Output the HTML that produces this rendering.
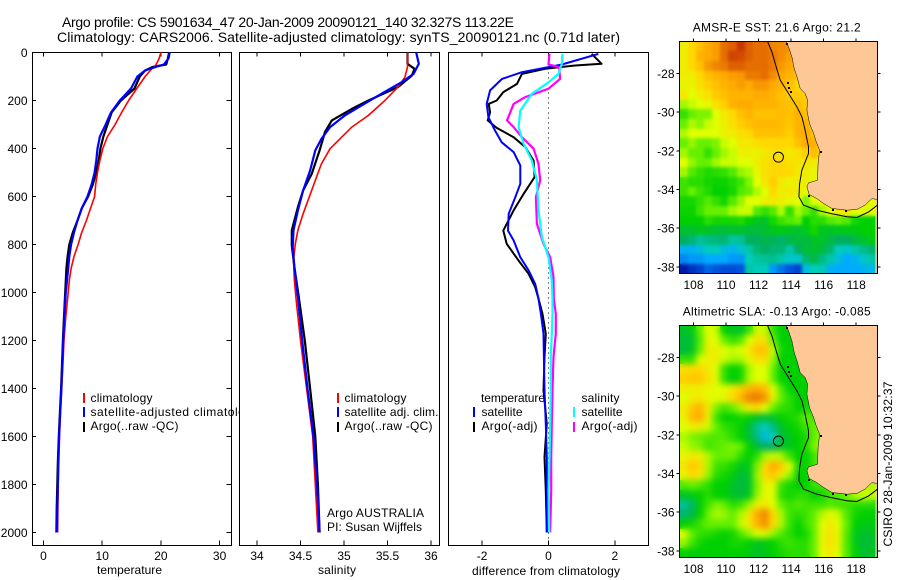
<!DOCTYPE html>
<html>
<head>
<meta charset="utf-8">
<title>Argo profile</title>
<style>
html,body{margin:0;padding:0;background:#fff;}
svg{display:block;font-family:"Liberation Sans",sans-serif;font-size:12px;fill:#000;}
text{fill:#000;}
</style>
</head>
<body>
<svg id="chart" xmlns="http://www.w3.org/2000/svg" width="900" height="580" viewBox="0 0 900 580">
<defs>
<filter id="blur-sst" x="-5%" y="-5%" width="110%" height="110%" color-interpolation-filters="sRGB"><feGaussianBlur stdDeviation="1.5"/></filter>
<filter id="blur-sla" x="-5%" y="-5%" width="110%" height="110%" color-interpolation-filters="sRGB"><feGaussianBlur stdDeviation="3.2"/></filter>
</defs>
<rect x="0" y="0" width="900" height="580" fill="#fff"/>
<text x="62" y="27" font-size="14" textLength="452" lengthAdjust="spacing">Argo profile: CS 5901634_47 20-Jan-2009 20090121_140 32.327S 113.22E</text>
<text x="57" y="42" font-size="14" textLength="563" lengthAdjust="spacing">Climatology: CARS2006. Satellite-adjusted climatology: synTS_20090121.nc (0.71d later)</text>
<g id="p1"></g>
<g>
<rect x="83" y="393" width="2" height="10" fill="#f00"/>
<rect x="83" y="407" width="2" height="10" fill="#00f"/>
<rect x="83" y="422" width="2" height="10" fill="#000"/>
<text x="90.5" y="402" textLength="62" lengthAdjust="spacing">climatology</text>
<text x="90.5" y="416" textLength="168" lengthAdjust="spacing">satellite-adjusted climatology</text>
<text x="90.5" y="430" textLength="88" lengthAdjust="spacing">Argo(..raw -QC)</text>
</g>
<g id="p2"></g>
<g>
<rect x="337" y="393" width="2" height="10" fill="#f00"/>
<rect x="337" y="407" width="2" height="10" fill="#00f"/>
<rect x="337" y="422" width="2" height="10" fill="#000"/>
<text x="344.5" y="402" textLength="62" lengthAdjust="spacing">climatology</text>
<text x="344.5" y="416" textLength="94" lengthAdjust="spacing">satellite adj. clim.</text>
<text x="344.5" y="430" textLength="88" lengthAdjust="spacing">Argo(..raw -QC)</text>
<text x="327" y="517" textLength="97" lengthAdjust="spacing">Argo AUSTRALIA</text>
<text x="327" y="531" textLength="95" lengthAdjust="spacing">PI: Susan Wijffels</text>
</g>
<g id="p3"></g>
<g>
<text x="481" y="402" textLength="64" lengthAdjust="spacing">temperature</text>
<text x="481.5" y="416" textLength="41" lengthAdjust="spacing">satellite</text>
<text x="481.5" y="430" textLength="56" lengthAdjust="spacing">Argo(-adj)</text>
<rect x="473" y="407" width="2" height="10" fill="#00f"/>
<rect x="473" y="422" width="2" height="10" fill="#000"/>
<text x="581.5" y="402" textLength="38" lengthAdjust="spacing">salinity</text>
<text x="581.5" y="416" textLength="41" lengthAdjust="spacing">satellite</text>
<text x="581.5" y="430" textLength="56" lengthAdjust="spacing">Argo(-adj)</text>
<rect x="573" y="407" width="2" height="10" fill="#0ff"/>
<rect x="573" y="422" width="2" height="10" fill="#f0f"/>
</g>
<g id="m1"></g>
<g id="m2"></g>
<text x="692.7" y="31.5" textLength="168" lengthAdjust="spacing">AMSR-E SST: 21.6 Argo: 21.2</text>
<text x="682.7" y="315.5" textLength="188" lengthAdjust="spacing">Altimetric SLA: -0.13 Argo: -0.085</text>
<text transform="translate(892 546.5) rotate(-90)" textLength="165" lengthAdjust="spacing">CSIRO 28-Jan-2009 10:32:37</text>
</svg>
<script>
// ---------- profile data ----------
const depthTicks = [0,200,400,600,800,1000,1200,1400,1600,1800,2000];
const tempTicks = [0,10,20,30];
const salTicks = [34,34.5,35,35.5,36];
const salTickLabels = ['34','34.5','35','35.5','36'];
const diffTicks = [-2,0,2];

const tempClimDepth = [0,25,50,75,100,150,200,250,300,350,400,450,500,550,600,650,700,750,800,850,900,950,1000,1100,1200,1300,1400,1500,1600,1800,2000];
const tempClim = [20.0,19.7,19.2,18.2,17.3,15.9,14.5,13.3,12.2,10.9,10.1,9.6,9.2,8.9,8.7,8,7.3,6.5,5.9,5.2,4.7,4.4,4.2,3.8,3.5,3.3,3.1,2.9,2.73,2.5,2.4];
const tempSatDepth = [0,25,50,60,75,100,150,200,250,300,350,400,450,500,550,600,650,700,750,800,850,900,1000,1100,1200,1300,1400,1500,1600,1700,1800,1900,2000];
const tempSat = [21.5,21.3,20.5,19.1,17.3,16,14.9,13,11.5,10.6,9.6,9.2,9,8.7,8.2,7.5,6.5,5.8,5.2,4.7,4.4,4.2,3.8,3.55,3.35,3.2,3.05,2.85,2.65,2.5,2.45,2.35,2.3];
const tempArgoDepth = [0,25,50,60,75,100,150,200,250,300,350,400,450,500,550,600,650,700,750,800,850,900,1000,1100,1200,1300,1400,1500,1600,1700,1800,1900,2000];
const tempArgo = [21.4,21.2,20.9,18.6,17.3,16.4,15.5,13.2,11.6,10.9,10.2,9.7,9.4,9,8.4,7.6,6.5,5.8,5,4.4,4.1,3.9,3.7,3.5,3.3,3.15,3,2.8,2.6,2.45,2.35,2.25,2.2];

const salClimDepth = [0,61,103,144,200,262,311,401,464,533,603,672,741,797,867,950,1033,1200,1400,1600,1800,2000];
const salClim = [35.73,35.73,35.70,35.62,35.47,35.28,35.09,34.84,34.74,34.67,34.60,34.53,34.47,34.44,34.42,34.43,34.45,34.50,34.57,34.64,34.67,34.70];
const salSatDepth = [0,47,89,124,172,221,262,311,360,408,492,575,658,741,811,894,1019,1200,1400,1600,1800,2000];
const salSat = [35.83,35.86,35.80,35.66,35.43,35.2,35.01,34.84,34.74,34.67,34.61,34.53,34.47,34.42,34.41,34.43,34.47,34.52,34.58,34.65,34.69,34.72];
const salArgoDepth = [0,47,68,96,144,200,235,283,332,408,505,575,644,741,804,894,1019,1200,1400,1600,1800,2000];
const salArgo = [35.73,35.73,35.81,35.78,35.62,35.28,35.09,34.86,34.78,34.72,34.63,34.53,34.47,34.40,34.40,34.43,34.48,34.55,34.61,34.67,34.70,34.72];

const diffTempSatDepth = [6,50,61,82,110,158,214,269,325,374,415,471,547,603,672,742,783,853,908,964,1026,1089,1172,1269,1408,1547,1686,1825,2000];
const diffTempSat = [1.5,0.4,0,-0.8,-1.4,-1.76,-1.86,-1.81,-1.61,-1.41,-1.05,-0.85,-0.85,-1.0,-1.2,-1.22,-1.05,-0.85,-0.6,-0.4,-0.3,-0.23,-0.15,-0.14,-0.12,-0.08,-0.05,-0.05,-0.05];
const diffTempArgoDepth = [6,47,54,68,89,131,165,200,214,249,283,314,353,394,450,519,589,658,742,797,867,922,978,1026,1089,1172,1269,1408,1547,1686,1825,2000];
const diffTempArgo = [1.3,1.6,0.8,-0.1,-0.8,-0.95,-1.36,-1.56,-1.8,-1.76,-1.83,-1.56,-1.05,-0.7,-0.45,-0.42,-0.75,-1.05,-1.36,-1.26,-0.9,-0.6,-0.4,-0.3,-0.18,-0.08,-0.12,-0.15,-0.05,-0.12,-0.08,-0.05];
const diffSalSatDepth = [6,47,89,124,172,242,311,381,450,533,658,769,853,950,1026,1089,1172,1269,1408,1547,1686,1825,2000];
const diffSalSat = [0.42,0.4,0.3,0,-0.5,-0.85,-0.9,-0.75,-0.5,-0.35,-0.3,-0.2,0,0.1,0.12,0.12,0.1,0.07,0.07,0.05,0.03,0,0.02];
const diffSalArgoDepth = [6,50,61,110,151,186,214,249,283,311,353,401,464,533,603,714,797,853,936,1026,1089,1172,1269,1408,1547,1686,1825,2000];
const diffSalArgo = [0.03,0,0.32,0.35,0,-0.7,-1.05,-1.15,-1.25,-1.05,-0.8,-0.45,-0.3,-0.25,-0.38,-0.35,-0.15,0.05,0.15,0.16,0.22,0.22,0.15,0.12,0.1,0.08,0.08,0.05];

// ---------- map data: colour-level values, rows north to south, half-degree cells ----------
const lonTicks = [108,110,112,114,116,118];
const latTicks = [28,30,32,34,36,38];
const sstRows = [
[7.5,8,8.5,9,9.2,10,10.2,10.8,10.2,10,10,9.6,9.5,9.5,9.5],
[7.5,8,8.8,9,9.2,10,10.6,10.5,10.2,10,10,9.8,9.5,9.2,9],
[7.5,8,8.5,9.3,9.6,9.8,10.2,10.2,10,10,10,9.8,9.3,9,8.5,8.5],
[7.5,7.5,8,8.5,8.8,9,9.2,9.3,9.8,9.8,10,9.5,9,8.8,8.5,8.5],
[7.3,7.3,7.8,8.2,8.5,8.8,9,9.2,9,9.3,9.3,9,8.8,8.5,8,8,8],
[7.6,7,7.5,7.8,8.3,8.5,8.8,8.8,8.8,9,9,8.8,8.5,8.3,8.3,8.2,8.2],
[6.5,6.8,7,7.2,7.8,8.2,8.8,9,9,8.8,8.8,8.8,8.6,8.5,8.5,8.3,8.2],
[5.5,6,6.2,6.2,7,7.6,8,8.5,8.8,8.5,8.5,8.5,8.6,8.5,8.8,8.5,8],
[6,6.6,6.3,6.8,7,7.4,7.8,8.2,8.5,8.7,8.7,8.7,8.6,8.4,8.8,8.8,8.2,8],
[6.6,7,7,7,7,7.3,7.5,7.8,8,8.5,8.5,8.5,8.5,8.2,8.8,9,8.5,8],
[6,6.4,6,6,6.2,6.8,7,7.6,7.6,7.8,8,8,8,8,8.5,9,8.8,8,8],
[6.5,6,6,5.5,6,6.5,6.8,7.3,7.4,7.3,7.6,7.8,7.8,7.6,7.8,8.2,8.6,8,8],
[7,6.4,6,6,6.5,6.8,6.8,7,7,7.4,7.8,8,8,7.8,7.7,7.7,7.5,7.5,7],
[6.5,5.8,5.5,5.3,5.4,5.5,5.8,6.4,6.6,7.2,7.8,8,8,8,7.6,7.4,7.2,7,6.8],
[5.6,5.4,5.4,5.2,5.1,5.1,5.3,5.6,6.2,7,7.6,8.2,7.6,7.3,7.5,7.4,7.2,7,7],
[5.6,6,5.6,5.3,5,5,5.2,5.8,6,6.6,7,8,7.4,7.6,7.4,7.2,7,6.8],
[5.2,5.2,5.5,5.8,5.5,5.2,5.8,6.4,7,7,7.4,7.6,7.4,7.2,7,6.2,7,7.2,7.4,7.4,7.4,7.4,7.2,7],
[5.1,5.1,5.6,6,6,6,6.5,6.8,6.8,5.8,5.5,5.8,6.6,5.5,6.5,6,5.5,6.5,7,7.5,7.5,7,7,7],
[5,5,5,5.4,5.2,5.2,5.2,5.3,5,4.7,4.6,5.2,5.6,5.8,6,5,5.4,5.4,5.8,6,5.8,5.2,5,5],
[4.5,4.5,4.7,4.6,4.5,4.4,4.5,4.5,4.4,4.4,4.5,4.7,4.8,4.7,4.5,4.8,5.2,4.7,4.6,4.7,4.8,4.8,5,5],
[4,3.8,3.4,3.6,3.7,3.8,3.3,3.4,4,4,4.2,4.1,3.9,4.2,4.4,4.3,4.6,4.6,4.3,4,4,4.3,4.5,4.8],
[2.2,2.2,2.5,3,3,2.5,2.3,2.7,3.2,3.8,4,3.8,3.8,3.2,4,4.4,4.5,4.4,3.8,3,2.8,3.2,3.5,3.8],
[1.6,1.8,1.8,2,2,2,1.8,1.8,3,3.3,3.4,3.5,3.2,2.8,2.8,3.8,4.3,3.6,3.2,2.6,2,2.3,2.8,3.2],
[0.3,0.6,0.8,1.2,1,0.9,0.9,1,3.2,3,3,1.8,1.4,1,0.8,2.6,3,3.1,2.2,2,2,2,2.2,2.4]
];
const slaRows = [
[4.6,4.8,6,7,6.8,5,4.7,4.6,5.5,6.8,6.8,5.5,5,4.9,4.9],
[4.4,4.5,5.8,7.2,7,6,5.5,5.8,7,7.8,7.8,6,5,5,5],
[4.4,4.6,6,7.4,7.4,7,6.8,7,7.6,8.5,8.5,6.8,5.2,5,5,5],
[5.5,5.5,7,7.4,7.4,6.8,6.5,6.5,7.2,7.8,7.8,6.5,5,5,5,5],
[7.8,8,8,7.6,7,5.5,5,5.2,6.5,7,7,6,5,5,5,5,5],
[8.2,8.4,8.4,7.8,7.2,5.5,4.9,5.2,6.6,7,7,6,5,5,5,5,5],
[7.4,7.4,7.4,7.2,7,7,7.6,8.2,8.8,9,8.6,7,5.8,5,5,5,5],
[7,7.4,7.6,7.2,7,7.2,8,8.8,9.6,9.8,9.3,7.4,6,5.4,5,5,5],
[7.5,8.4,8.8,7.6,6.2,5.6,6,6.6,7.6,7.8,7,6,5.5,5.4,5,5.2,5.4,5.4],
[7.3,8.6,9,7.4,5.6,5,5,5.2,5,4.6,4.4,4.6,5,5.2,5.4,6,5.6,5.4],
[7,7.4,7.4,6.8,6,5.5,5.3,5,4.4,3.4,3,3.6,4.5,5,5.2,5.6,6,6,5.6],
[6.6,6.2,6,5.8,5.8,5.8,5.4,5,4.5,3.6,2.4,3,4.3,4.7,5,5.2,6,6.4,6],
[6.8,6.4,6.2,5.6,5.8,6,6.2,6,5,4.4,4,4,4.5,4.7,5,5.3,6.2,6.4,6],
[7.2,7.6,7.4,6.6,6,6,6,5.4,5,5.4,6.5,6.8,6.6,5.6,5,5,5.6,6.2,6],
[7.6,8.4,8,6.6,5.6,5.5,5.2,4.7,4.8,6.2,8,9,8.4,7,5.2,5,5.6,6,6],
[7.2,8,7.6,6.4,5.4,5.2,4.8,4.4,4.6,6.4,8,8.4,7.4,6.4,5,5,5.6,5.6],
[5.8,6,5.8,5.4,5,5,4.6,4.3,4.6,6.2,7.2,7.2,5.6,5.2,5,5,5.6,5.6,5.8,6,6.2,6.4,6.6,6.6],
[4.6,4.8,5,5.4,5,4.9,4.6,4.4,4.7,6.4,7.2,7,5.4,5.2,5.4,5.4,5,5.2,5.6,5.8,6,6.6,6.8,6.8],
[3.4,3.8,5,5.6,6.2,6,5.4,5.6,6.4,7.4,7.6,7,6,5.6,5.8,5.6,5.6,5.6,5.8,5.6,5.6,5.4,5.4,5.4],
[3.8,4.2,5,6,6.6,6.4,6,6.6,7.6,9,9.6,8,6.6,5.6,5.4,5.6,6,6.6,7.2,6.8,5.8,5.2,5,5],
[5,5.2,5.6,6,6,6,6,6.8,7.6,8.8,9.4,8,6.6,5.6,5,5.6,6,7,7.6,7,6,5,4.8,4.8],
[7,6,5.5,5.4,5.2,5,5.2,5.8,6.4,7,7.2,6.4,5.8,5.4,5,5.2,6,7.2,7.8,7.2,5.8,4.8,4.5,4.6],
[6.4,5.6,5.2,5,5,5,5.2,5.2,5,4.7,4.8,5,5.4,5.6,5.4,5.4,6,7.2,7.8,7.2,5.8,4.8,4.4,4.5],
[5,4.9,4.9,5,5,5,5,5,4.8,4.6,4.7,5,5.2,5.4,5.4,5.4,6,7,7.6,7,5.8,5,4.5,4.6]
];
const coastLon = [113.70,113.84,114.05,114.19,114.39,114.56,114.86,115.01,114.97,115.13,115.38,115.54,115.75,115.66,115.62,115.07,114.97,115.11,115.58,115.99,116.50,117.43,118.04,118.55,118.96,119.31];
const coastLat = [26.34,26.62,27.14,27.74,28.26,28.78,29.03,29.38,29.90,30.59,31.10,31.53,31.97,32.66,33.52,33.66,33.86,34.26,34.47,34.72,34.98,35.07,35.03,34.81,34.47,34.52];
const shelfLon = [112.55,112.82,113.08,113.33,113.84,114.35,114.66,114.86,115.07,115.07,114.66,114.52,114.48,114.76,115.58,116.40,117.43,118.04,118.76,119.31];
const shelfLat = [26.34,26.88,27.66,28.34,29.03,29.72,30.24,30.93,31.79,32.14,33.0,33.69,34.38,34.81,35.07,35.24,35.41,35.45,35.16,34.81];
const islandLon = [113.68,113.72,113.78,113.94,115.78,115.05,116.5,117.3];
const islandLat = [26.42,28.45,28.7,28.9,32.0,34.27,35.0,35.05];
const floatLon = 113.22;
const floatLat = 32.327;

// ---------- colour scale: level to jet-like colour ----------
const levelColors = [[0,0,144],[0,85,221],[0,170,255],[0,204,187],[0,176,96],[0,208,0],[102,240,0],[224,255,0],[255,216,0],[255,170,0],[230,110,0],[190,40,0],[128,0,0]];
function colorScale(v){
  const t = Math.max(0, Math.min(levelColors.length - 1.001, v));
  const i = Math.floor(t), f = t - i;
  const a = levelColors[i], b = levelColors[i + 1];
  return 'rgb(' + a.map((c, k) => Math.round(c + (b[k] - c) * f)).join(',') + ')';
}

const NS = 'http://www.w3.org/2000/svg';
function node(parent, tag, attrs){
  const el = document.createElementNS(NS, tag);
  for (const k in attrs) el.setAttribute(k, attrs[k]);
  parent.appendChild(el);
  return el;
}

// ---------- profile panels ----------
const depthY = d => 52.5 + d * 0.24;
const panelTop = 52.5, panelBottom = 545.5;
function frame(parent, left, right){
  const el = node(parent, 'rect', {x:left, y:panelTop, width:right-left, height:panelBottom-panelTop, fill:'#fff', stroke:'#000', 'stroke-width':1, 'shape-rendering':'crispEdges'});
  
  
}
function xTicks(parent, ticks, labels, xs){
  ticks.forEach((t, i) => {
    const x = xs(t);
    const top = node(parent, 'line', {x1:x, x2:x, y1:panelTop, y2:panelTop+4, stroke:'#000', 'shape-rendering':'crispEdges'});
    
    
    const bot = node(parent, 'line', {x1:x, x2:x, y1:panelBottom, y2:panelBottom-5, stroke:'#000', 'shape-rendering':'crispEdges'});
    
    
    const lab = node(parent, 'text', {x:x, y:560, 'text-anchor':'middle'});
    
    
    lab.textContent = labels[i];
  });
}
function profile(parent, values, depths, xs, color, width, name){
  const pts = values.map((v, i) => xs(v).toFixed(1) + ',' + depthY(depths[i]).toFixed(1)).join(' ');
  const el = node(parent, 'polyline', {points:pts, fill:'none', stroke:color, 'stroke-width':width, 'stroke-linejoin':'round'});
  
  
}
function axisTitle(parent, x, y, str, len){
  const el = node(parent, 'text', {x:x, y:y, 'text-anchor':'middle', textLength:len, lengthAdjust:'spacing'});
  
  
  el.textContent = str;
}

const p1 = document.getElementById('p1');
const tempX = t => 43.5 + t * 5.87;
frame(p1, 32.5, 231.5);
xTicks(p1, tempTicks, tempTicks, tempX);
depthTicks.forEach(d => {
  const l = node(p1, 'line', {x1:32.5, x2:36, y1:depthY(d), y2:depthY(d), stroke:'#000', 'shape-rendering':'crispEdges'});
  
  
  const r = node(p1, 'line', {x1:231.5, x2:226.5, y1:depthY(d), y2:depthY(d), stroke:'#000', 'shape-rendering':'crispEdges'});
  
  
  const lab = node(p1, 'text', {x:27.5, y:depthY(d)+4.5, 'text-anchor':'end'});
  
  
  lab.textContent = d;
});
profile(p1, tempArgo, tempArgoDepth, tempX, '#000', 2.2, 'temperature-argo-line');
profile(p1, tempClim, tempClimDepth, tempX, '#f00', 1.6, 'temperature-climatology-line');
profile(p1, tempSat, tempSatDepth, tempX, '#00f', 2.2, 'temperature-satellite-line');
axisTitle(p1, 129.5, 574, 'temperature', 65);

const p2 = document.getElementById('p2');
const salX = s => 257 + (s - 34) * 87;
frame(p2, 239.5, 439.5);
xTicks(p2, salTicks, salTickLabels, salX);
profile(p2, salArgo, salArgoDepth, salX, '#000', 2.2, 'salinity-argo-line');
profile(p2, salClim, salClimDepth, salX, '#f00', 1.6, 'salinity-climatology-line');
profile(p2, salSat, salSatDepth, salX, '#00f', 2.2, 'salinity-satellite-line');
axisTitle(p2, 337, 574, 'salinity', 38);

const p3 = document.getElementById('p3');
const diffX = v => 548.5 + v * 33.2;
frame(p3, 448.5, 648.5);
xTicks(p3, diffTicks, diffTicks, diffX);
const zero = node(p3, 'line', {x1:diffX(0), x2:diffX(0), y1:panelTop, y2:panelBottom, stroke:'#000', 'stroke-width':1, 'stroke-dasharray':'1 4', 'shape-rendering':'crispEdges'});


profile(p3, diffTempArgo, diffTempArgoDepth, diffX, '#000', 2, 'diff-temperature-argo-line');
profile(p3, diffTempSat, diffTempSatDepth, diffX, '#00f', 2, 'diff-temperature-satellite-line');
profile(p3, diffSalArgo, diffSalArgoDepth, diffX, '#f0f', 2.2, 'diff-salinity-argo-line');
profile(p3, diffSalSat, diffSalSatDepth, diffX, '#0ff', 2.2, 'diff-salinity-satellite-line');
axisTitle(p3, 546, 575, 'difference from climatology', 148);

// ---------- maps ----------
const lonX = lon => 693.5 + (lon - 108) * 16.27;
const mapLeft = 679.5, mapRight = 877.5, lonStart = 107.15, latStart = 26.35;
function drawMap(id, clipId, rows, top, bottom, lat28Y, cellName, blurId){
  const g = document.getElementById(id);
  const latY = lat => lat28Y + (lat - 28) * 19.33;
  const defs = node(g, 'clipPath', {id:clipId});
  node(defs, 'rect', {x:mapLeft, y:top, width:mapRight-mapLeft, height:bottom-top});
  const clip = node(g, 'g', {'clip-path':'url(#' + clipId + ')'});
  const land0 = node(clip, 'rect', {x:mapLeft, y:top, width:mapRight-mapLeft, height:bottom-top, fill:'#fdc896'});
  
  
  const cells = node(clip, 'g', {id:id + '-cells'});
  
  
  rows.forEach((row, j) => {
    row.forEach((v, i) => {
      const x0 = Math.round(lonX(lonStart + i * 0.5)), x1 = Math.round(lonX(lonStart + (i + 1) * 0.5));
      const y0 = Math.round(latY(latStart + j * 0.5)), y1 = Math.round(latY(latStart + (j + 1) * 0.5));
      const c = node(cells, 'rect', {x:x0, y:y0, width:x1-x0, height:y1-y0, fill:colorScale(v), 'shape-rendering':'crispEdges'});
      
      
    });
  });
  const soft = node(clip, 'use', {href:'#' + id + '-cells', filter:'url(#' + blurId + ')'});
  
  
  const coastPts = coastLon.map((lon, i) => lonX(lon).toFixed(1) + ',' + latY(coastLat[i]).toFixed(1));
  const landPts = coastPts.concat([lonX(119.6).toFixed(1) + ',' + latY(34.52).toFixed(1), lonX(119.6).toFixed(1) + ',' + latY(26).toFixed(1), lonX(113.7).toFixed(1) + ',' + latY(26).toFixed(1)]).join(' ');
  const land = node(clip, 'polygon', {points:landPts, fill:'#fdc896', stroke:'#000', 'stroke-width':0.5});
  
  
  const shelf = node(clip, 'polyline', {points:shelfLon.map((lon, i) => lonX(lon).toFixed(1) + ',' + latY(shelfLat[i]).toFixed(1)).join(' '), fill:'none', stroke:'#000', 'stroke-width':1});
  
  
  islandLon.forEach((lon, i) => {
    const m = node(clip, 'rect', {x:Math.round(lonX(lon)), y:Math.round(latY(islandLat[i])), width:2, height:2, fill:'#000', 'shape-rendering':'crispEdges'});
    
    
  });
  const ring = node(clip, 'circle', {cx:lonX(floatLon), cy:latY(floatLat), r:5, fill:'none', stroke:'#000', 'stroke-width':1});
  
  
  const f = node(g, 'rect', {x:mapLeft, y:top, width:mapRight-mapLeft, height:bottom-top, fill:'none', stroke:'#000', 'shape-rendering':'crispEdges'});
  
  
  lonTicks.forEach(lon => {
    const x = lonX(lon);
    const t = node(g, 'line', {x1:x, x2:x, y1:top, y2:top-3, stroke:'#000', 'shape-rendering':'crispEdges'});
    
    
    const lab = node(g, 'text', {x:x, y:bottom+15.5, 'text-anchor':'middle'});
    
    
    lab.textContent = lon;
  });
  latTicks.forEach(lat => {
    const y = latY(lat);
    const l = node(g, 'line', {x1:mapLeft, x2:mapLeft-3, y1:y, y2:y, stroke:'#000', 'shape-rendering':'crispEdges'});
    
    
    const r = node(g, 'line', {x1:mapRight, x2:mapRight+3, y1:y, y2:y, stroke:'#000', 'shape-rendering':'crispEdges'});
    
    
    const lab = node(g, 'text', {x:674.5, y:y+4.5, 'text-anchor':'end'});
    
    
    lab.textContent = '-' + lat;
  });
}
drawMap('m1', 'clip-sst', sstRows, 41.5, 273.5, 73.5, 'sst-cell', 'blur-sst');
drawMap('m2', 'clip-sla', slaRows, 325.5, 557.5, 357.5, 'sla-cell', 'blur-sla');
</script>
</body>
</html>
